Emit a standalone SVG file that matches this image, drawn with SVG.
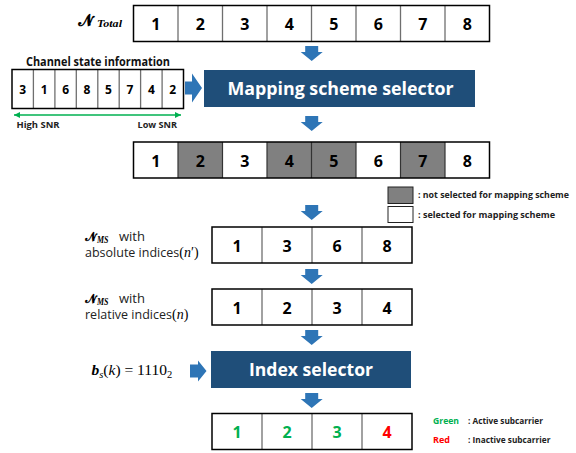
<svg xmlns="http://www.w3.org/2000/svg" width="576" height="453" viewBox="0 0 576 453">
<style>
.cell{fill:#fff;stroke:none}
.grey{fill:#808080;stroke:none}
.outer{fill:none;stroke:#000;stroke-width:1.5}
.div{stroke:#6f6f6f;stroke-width:1.3}
.num{font-family:"Open Sans","Noto Sans",sans-serif;font-weight:bold;font-size:16px;fill:#000;text-anchor:middle}
.csi{font-family:"Open Sans","Noto Sans",sans-serif;font-weight:bold;font-size:12px;fill:#000;text-anchor:middle}
.lbl{font-family:"Open Sans","Noto Sans",sans-serif;font-size:12.5px;fill:#222}
.small{font-family:"Open Sans","Noto Sans",sans-serif;font-weight:bold;font-size:9.5px;fill:#222}
.title{font-family:"Open Sans","Noto Sans",sans-serif;font-weight:bold;font-size:12.5px;fill:#111}
.boxt{font-family:"Open Sans","Noto Sans",sans-serif;font-weight:bold;font-size:18.5px;fill:#fff;text-anchor:middle}
.math{font-family:"Liberation Serif","DejaVu Serif",serif;fill:#000}
.script{font-family:"DejaVu Serif","Noto Sans Math",serif;fill:#000}
.blue{fill:#2E75B6}
.dark{fill:#1F4E79}
</style>
<defs>
<path id="down" d="M-6.5,0 H6.5 V6 H11 L0,15 L-11,6 H-6.5 Z"/>
<marker id="gh" markerWidth="8" markerHeight="8" refX="6" refY="4" orient="auto-start-reverse" markerUnits="userSpaceOnUse">
<path d="M0,1 L6,4 L0,7 Z" fill="#00B050"/>
</marker>
</defs>

<g id="n-total">
<text class="script" x="78" y="25.5" font-size="16" font-weight="bold">𝓝</text>
<text class="math" x="97" y="27" font-size="11" font-style="italic" font-weight="bold" textLength="25" lengthAdjust="spacingAndGlyphs">Total</text>
<rect class="cell" x="133.5" y="5.5" width="356" height="36"/>
<g class="div">
<line x1="178" y1="5.5" x2="178" y2="41.5"/><line x1="222.5" y1="5.5" x2="222.5" y2="41.5"/><line x1="267" y1="5.5" x2="267" y2="41.5"/><line x1="311.5" y1="5.5" x2="311.5" y2="41.5"/><line x1="356" y1="5.5" x2="356" y2="41.5"/><line x1="400.5" y1="5.5" x2="400.5" y2="41.5"/><line x1="445" y1="5.5" x2="445" y2="41.5"/>
</g>
<rect class="outer" x="133.5" y="5.5" width="356" height="36"/>
<text class="num" x="155.75" y="29.5">1</text><text class="num" x="200.25" y="29.5">2</text><text class="num" x="244.75" y="29.5">3</text><text class="num" x="289.25" y="29.5">4</text><text class="num" x="333.75" y="29.5">5</text><text class="num" x="378.25" y="29.5">6</text><text class="num" x="422.75" y="29.5">7</text><text class="num" x="467.25" y="29.5">8</text>
</g>

<g id="csi">
<text class="title" x="26" y="66" textLength="144" lengthAdjust="spacingAndGlyphs">Channel state information</text>
<rect class="cell" x="12" y="69.5" width="171.5" height="39"/>
<g class="div">
<line x1="33.4" y1="69.5" x2="33.4" y2="108.5"/><line x1="54.9" y1="69.5" x2="54.9" y2="108.5"/><line x1="76.3" y1="69.5" x2="76.3" y2="108.5"/><line x1="97.8" y1="69.5" x2="97.8" y2="108.5"/><line x1="119.2" y1="69.5" x2="119.2" y2="108.5"/><line x1="140.6" y1="69.5" x2="140.6" y2="108.5"/><line x1="162.1" y1="69.5" x2="162.1" y2="108.5"/>
</g>
<rect class="outer" x="12" y="69.5" width="171.5" height="39"/>
<text class="csi" x="22.7" y="94">3</text><text class="csi" x="44.1" y="94">1</text><text class="csi" x="65.6" y="94">6</text><text class="csi" x="87" y="94">8</text><text class="csi" x="108.5" y="94">5</text><text class="csi" x="129.9" y="94">7</text><text class="csi" x="151.4" y="94">4</text><text class="csi" x="172.8" y="94">2</text>
<line x1="14" y1="115" x2="181" y2="115" stroke="#00B050" stroke-width="1.5" marker-start="url(#gh)" marker-end="url(#gh)"/>
<text class="small" x="16.5" y="128" textLength="43" lengthAdjust="spacingAndGlyphs">High SNR</text>
<text class="small" x="137.5" y="128" textLength="39.5" lengthAdjust="spacingAndGlyphs">Low SNR</text>
</g>

<g id="mapping-selector">
<rect class="dark" x="204" y="70" width="271" height="37"/>
<text class="boxt" x="340.5" y="95" textLength="226" lengthAdjust="spacingAndGlyphs">Mapping scheme selector</text>
</g>

<g id="selected-row">
<rect class="cell" x="133.5" y="142" width="356" height="36"/>
<rect class="grey" x="178" y="142" width="44.5" height="36"/>
<rect class="grey" x="267" y="142" width="89" height="36"/>
<rect class="grey" x="400.5" y="142" width="44.5" height="36"/>
<g stroke="#333" stroke-width="1.2">
<line x1="178" y1="142" x2="178" y2="178"/><line x1="222.5" y1="142" x2="222.5" y2="178"/><line x1="267" y1="142" x2="267" y2="178"/><line x1="311.5" y1="142" x2="311.5" y2="178"/><line x1="356" y1="142" x2="356" y2="178"/><line x1="400.5" y1="142" x2="400.5" y2="178"/><line x1="445" y1="142" x2="445" y2="178"/>
</g>
<rect class="outer" x="133.5" y="142" width="356" height="36"/>
<text class="num" x="155.75" y="166.5">1</text><text class="num" x="200.25" y="166.5">2</text><text class="num" x="244.75" y="166.5">3</text><text class="num" x="289.25" y="166.5">4</text><text class="num" x="333.75" y="166.5">5</text><text class="num" x="378.25" y="166.5">6</text><text class="num" x="422.75" y="166.5">7</text><text class="num" x="467.25" y="166.5">8</text>
</g>

<g id="legend-map">
<rect x="388" y="187" width="25" height="16.5" fill="#808080" stroke="#222" stroke-width="1"/>
<rect x="388" y="206.5" width="25" height="16" fill="#fff" stroke="#222" stroke-width="1"/>
<text class="small" x="418" y="198" font-size="9" style="font-size:9px" textLength="151" lengthAdjust="spacingAndGlyphs">: not selected for mapping scheme</text>
<text class="small" x="418" y="217.5" textLength="137" lengthAdjust="spacingAndGlyphs">: selected for mapping scheme</text>
</g>

<g id="abs-row">
<text class="script" x="85" y="241" font-size="12" font-weight="bold">𝓝</text>
<text class="math" x="97" y="243" font-size="9.5" font-style="italic" font-weight="bold" textLength="11.5" lengthAdjust="spacingAndGlyphs">MS</text>
<text class="lbl" x="119" y="241" textLength="26" lengthAdjust="spacingAndGlyphs">with</text>
<text class="lbl" x="85" y="257">absolute indices<tspan class="math" font-size="14">(</tspan><tspan class="math" font-size="14" font-style="italic">n</tspan><tspan class="math" font-size="14">′)</tspan></text>
<rect class="cell" x="212" y="227" width="200" height="36"/>
<g class="div"><line x1="262" y1="227" x2="262" y2="263"/><line x1="312" y1="227" x2="312" y2="263"/><line x1="362" y1="227" x2="362" y2="263"/></g>
<rect class="outer" x="212" y="227" width="200" height="36"/>
<text class="num" x="237" y="251.5">1</text><text class="num" x="287" y="251.5">3</text><text class="num" x="337" y="251.5">6</text><text class="num" x="387" y="251.5">8</text>
</g>

<g id="rel-row">
<text class="script" x="85" y="303" font-size="12" font-weight="bold">𝓝</text>
<text class="math" x="97" y="305" font-size="9.5" font-style="italic" font-weight="bold" textLength="11.5" lengthAdjust="spacingAndGlyphs">MS</text>
<text class="lbl" x="119" y="303" textLength="26" lengthAdjust="spacingAndGlyphs">with</text>
<text class="lbl" x="85" y="319">relative indices<tspan class="math" font-size="14">(</tspan><tspan class="math" font-size="14" font-style="italic">n</tspan><tspan class="math" font-size="14">)</tspan></text>
<rect class="cell" x="212" y="289" width="200" height="36"/>
<g class="div"><line x1="262" y1="289" x2="262" y2="325"/><line x1="312" y1="289" x2="312" y2="325"/><line x1="362" y1="289" x2="362" y2="325"/></g>
<rect class="outer" x="212" y="289" width="200" height="36"/>
<text class="num" x="237" y="313.5">1</text><text class="num" x="287" y="313.5">2</text><text class="num" x="337" y="313.5">3</text><text class="num" x="387" y="313.5">4</text>
</g>

<g id="bits">
<text class="math" x="91.5" y="375" font-size="15.5"><tspan font-weight="bold" font-style="italic">b</tspan><tspan font-style="italic" font-size="10.5" dy="3">s</tspan><tspan dy="-3">(</tspan><tspan font-style="italic">k</tspan><tspan>) = 1110</tspan><tspan font-size="10.5" dy="3">2</tspan></text>
</g>

<g id="index-selector">
<rect class="dark" x="211" y="351" width="200" height="37"/>
<text class="boxt" x="311" y="375.5" textLength="124" lengthAdjust="spacingAndGlyphs">Index selector</text>
</g>

<g id="result-row">
<rect class="cell" x="212" y="413.5" width="200" height="36"/>
<g class="div"><line x1="262" y1="413.5" x2="262" y2="449.5"/><line x1="312" y1="413.5" x2="312" y2="449.5"/><line x1="362" y1="413.5" x2="362" y2="449.5"/></g>
<rect class="outer" x="212" y="413.5" width="200" height="36"/>
<text class="num" x="237" y="438" style="fill:#00B050">1</text><text class="num" x="287" y="438" style="fill:#00B050">2</text><text class="num" x="337" y="438" style="fill:#00B050">3</text><text class="num" x="387" y="438" style="fill:#FF0000">4</text>
</g>

<g id="legend-color">
<text class="small" x="433" y="423.5" style="fill:#00B050" textLength="26" lengthAdjust="spacingAndGlyphs">Green</text>
<text class="small" x="468" y="423.5" textLength="75" lengthAdjust="spacingAndGlyphs">: Active subcarrier</text>
<text class="small" x="433" y="443" style="fill:#FF0000" textLength="17" lengthAdjust="spacingAndGlyphs">Red</text>
<text class="small" x="468" y="443" textLength="82.5" lengthAdjust="spacingAndGlyphs">: Inactive subcarrier</text>
</g>

<g id="connectors" class="blue">
<use href="#down" x="311.7" y="46"/>
<use href="#down" x="311.7" y="116"/>
<use href="#down" x="311.7" y="205"/>
<use href="#down" x="311.7" y="269"/>
<use href="#down" x="311.7" y="330"/>
<use href="#down" x="311.7" y="393"/>
<path d="M185,81.5 H192 V73.5 L202,88 L192,102.5 V94.5 H185 Z"/>
<path d="M190,364.5 H198 V360.5 L206.5,371 L198,381.5 V377.5 H190 Z"/>
</g>
</svg>
